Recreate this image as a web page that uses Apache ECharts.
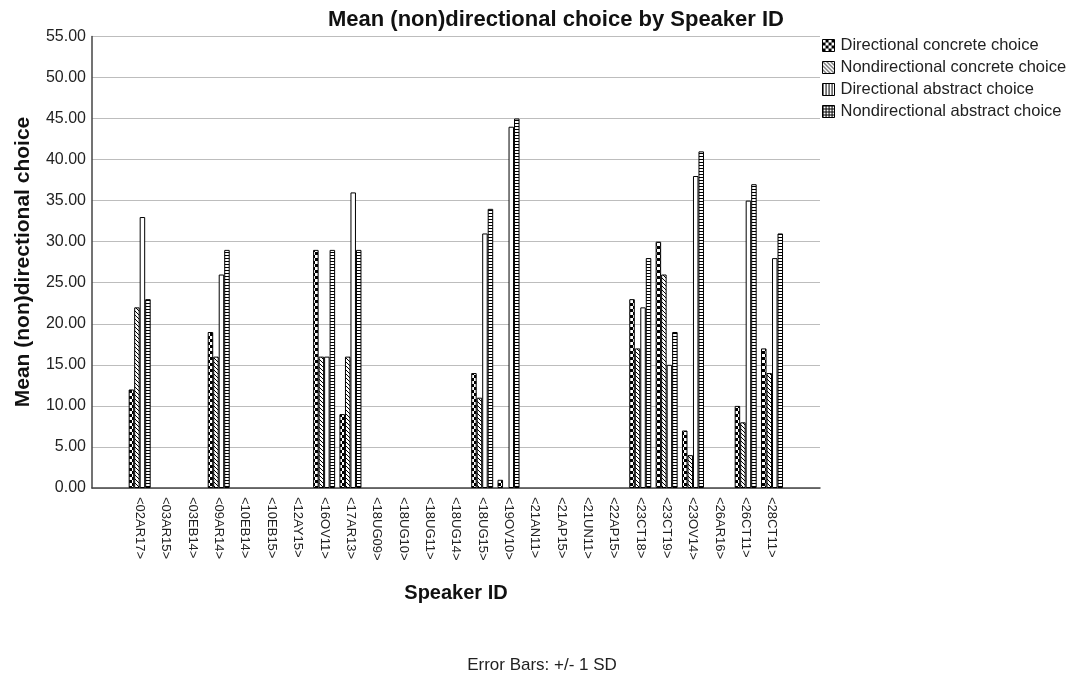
<!DOCTYPE html>
<html><head><meta charset="utf-8">
<script src="https://cdn.jsdelivr.net/npm/echarts@6/dist/echarts.min.js"></script>
<style>html,body{margin:0;padding:0;background:#fff}#c{width:1079px;height:675px}</style>
</head><body><div id="c"></div>
<script>
const categories = ['<02AR17>','<03AR15>','<03EB14>','<09AR14>','<10EB14>','<10EB15>','<12AY15>','<16OV11>','<17AR13>','<18UG09>','<18UG10>','<18UG11>','<18UG14>','<18UG15>','<19OV10>','<21AN11>','<21AP15>','<21UN11>','<22AP15>','<23CT18>','<23CT19>','<23OV14>','<26AR16>','<26CT11>','<28CT11>'];
const dirConcrete    = [12,null,null,19,null,null,null,29,9,null,null,null,null,14,1,null,null,null,null,23,30,7,null,10,17];
const nondirConcrete = [22,null,null,16,null,null,null,16,16,null,null,null,null,11,null,null,null,null,null,17,26,4,null,8,14];
const dirAbstract    = [33,null,null,26,null,null,null,16,36,null,null,null,null,31,44,null,null,null,null,22,15,38,null,35,28];
const nondirAbstract = [23,null,null,29,null,null,null,29,29,null,null,null,null,34,45,null,null,null,null,28,19,41,null,37,31];
const seriesNames = ['Directional concrete choice','Nondirectional concrete choice','Directional abstract choice','Nondirectional abstract choice'];
const yTicks = {min:0, max:55, interval:5};

function pat(w,h,draw){const c=document.createElement('canvas');c.width=w;c.height=h;const g=c.getContext('2d');g.fillStyle='#fff';g.fillRect(0,0,w,h);g.fillStyle='#000';draw(g);return {image:c,repeat:'repeat'};}
const checker = pat(6,6,g=>{g.fillRect(0,0,6,6);g.fillStyle='#fff';g.fillRect(0,0,3,3);g.fillRect(3,3,3,3);});
const diag = pat(4,4,g=>{for(let i=0;i<4;i++)g.fillRect(i,i,1,1);});
const vlines = pat(3,3,g=>{g.fillRect(0,0,1,3);});
const hlines = pat(1,3,g=>{g.fillRect(0,0,1,1);});
const gridP = pat(3,3,g=>{g.fillRect(0,0,3,1);g.fillRect(0,0,1,3);});

const barFills = [checker, diag, '#ffffff', hlines];
const legendFills = [checker, diag, vlines, gridP];
const seriesData = [dirConcrete, nondirConcrete, dirAbstract, nondirAbstract];

const chart = echarts.init(document.getElementById('c'), null, {renderer:'canvas'});
const FONT = '"Liberation Sans", Arial, sans-serif';
chart.setOption({
  animation:false,
  backgroundColor:'#fff',
  textStyle:{fontFamily:FONT},
  grid:[
    {left:92, right:259, top:36.4, bottom:187},
    {left:126.5, right:293.8, top:36.4, bottom:187}
  ],
  xAxis:[
    {gridIndex:0, type:'value', min:0, max:1, axisLine:{show:true,lineStyle:{color:'#444',width:1.5}}, axisTick:{show:false}, axisLabel:{show:false}, splitLine:{show:false}},
    {gridIndex:1, type:'category', data:categories, axisLine:{show:false}, axisTick:{show:false},
     axisLabel:{interval:0, rotate:-90, fontSize:13, color:'#222', margin:9, fontFamily:FONT}}
  ],
  yAxis:[
    {gridIndex:0, type:'value', min:yTicks.min, max:yTicks.max, interval:yTicks.interval,
     axisLine:{show:true,lineStyle:{color:'#444',width:1.5}}, axisTick:{show:false},
     axisLabel:{formatter:v=>v.toFixed(2), fontSize:16, color:'#222', margin:6, fontFamily:FONT},
     splitLine:{show:true, lineStyle:{color:'#bdbdbd', width:1}}},
    {gridIndex:1, type:'value', min:yTicks.min, max:yTicks.max, interval:yTicks.interval, show:false, splitLine:{show:false}}
  ],
  legend:{
    orient:'vertical', left:822, top:37, padding:0, itemWidth:12, itemHeight:12, itemGap:5,
    textStyle:{fontSize:16.5, color:'#222', fontFamily:FONT, padding:[0,0,0,1]},
    icon:'rect',
    data: seriesNames.map((n,i)=>({name:n, itemStyle:{color:legendFills[i], borderColor:'#000', borderWidth:1}}))
  },
  series: seriesNames.map((n,i)=>({
    name:n, type:'bar', xAxisIndex:1, yAxisIndex:1, data:seriesData[i],
    barWidth:5.5, barGap:'0%',
    itemStyle:{color:barFills[i], borderColor:'#000', borderWidth:1}
  })),
  graphic:[
    {type:'text', x:556, y:20, style:{text:'Mean (non)directional choice by Speaker ID', font:'bold 22px '+FONT, fill:'#111', textAlign:'center', textVerticalAlign:'middle'}},
    {type:'text', x:23, y:262, rotation:Math.PI/2, style:{text:'Mean (non)directional choice', font:'bold 21px '+FONT, fill:'#111', textAlign:'center', textVerticalAlign:'middle'}},
    {type:'text', x:456, y:593, style:{text:'Speaker ID', font:'bold 20px '+FONT, fill:'#111', textAlign:'center', textVerticalAlign:'middle'}},
    {type:'text', x:542, y:665, style:{text:'Error Bars: +/- 1 SD', font:'17px '+FONT, fill:'#222', textAlign:'center', textVerticalAlign:'middle'}}
  ]
});
</script></body></html>
